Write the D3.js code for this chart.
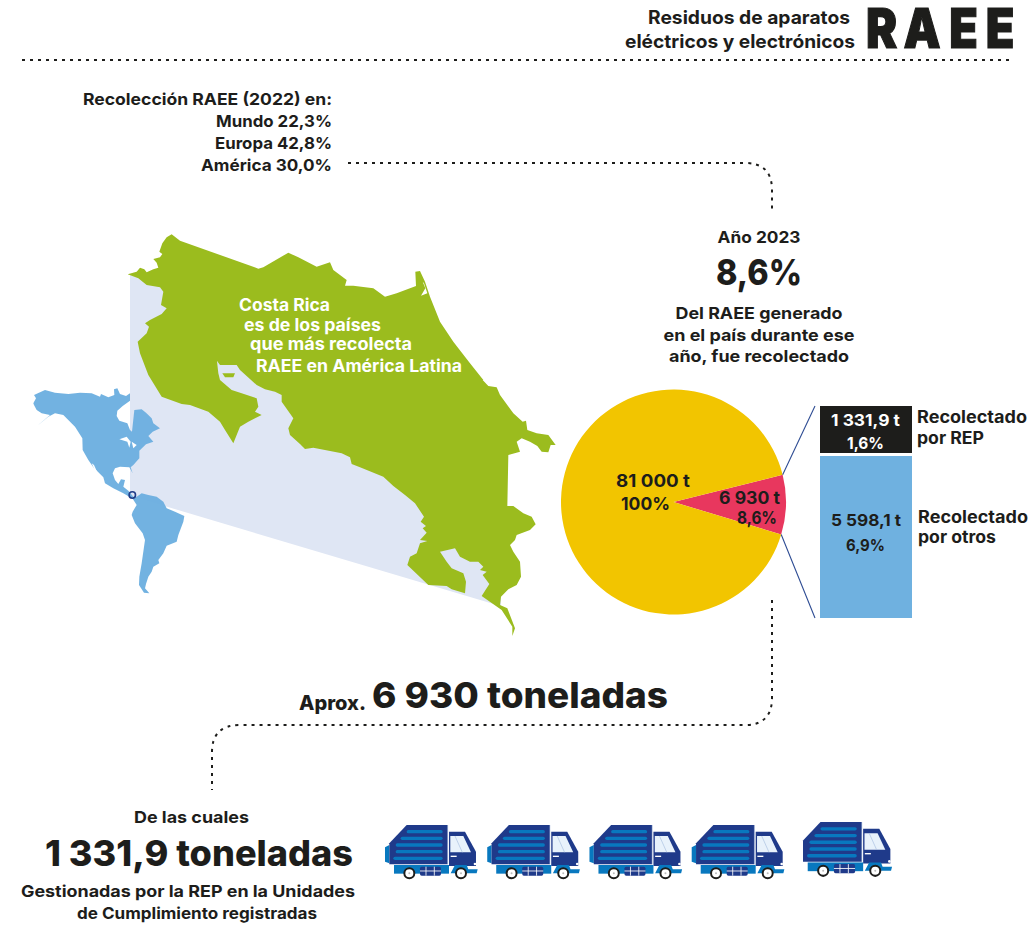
<!DOCTYPE html>
<html><head><meta charset="utf-8">
<style>html,body{margin:0;background:#fff}svg{display:block}text{font-family:Inter,"Open Sans",sans-serif;font-weight:700;fill:#1d1d1b}</style>
<script src="https://cdn.jsdelivr.net/npm/d3@7"></script></head><body>
<script>
// ---- data ----
const pieLabels = ["Recolectado","Generado restante"];
const pieValues = [6930, 74070];
const stackCategories = ["Recolectado por otros","Recolectado por REP"];
const stackValues = [5598.1, 1331.9];
const truckCount = 5;
// ---- illustration outlines (traced shapes in crop space, not data) ----
const crN=[[8,133],[35,125],[45,113],[58,118],[65,127],[85,118],[100,113],[95,98],[85,87],[105,82],[112,72],[103,65],[112,40],[125,22],[140,13],[165,32],[400,116],[415,112],[490,68],[520,82],[575,110]];
const crE=[[590,125],[630,112],[640,135],[680,165],[675,182],[700,182],[760,190],[795,215],[830,205],[888,183],[886,140],[900,138],[915,170],[930,215],[960,290],[1000,350],[1050,415],[1090,465]];
const crS=[[548,0],[565,18],[590,22],[600,45],[640,100],[668,125],[678,122],[682,150],[710,160],[745,165],[767,195],[752,195],[745,217],[725,215],[712,198],[690,185],[665,175],[650,185],[660,215],[625,225],[622,378],[640,378],[670,400],[695,410],[707,433],[690,450],[650,465],[645,480],[630,495],[640,515],[660,545],[663,590],[650,615],[625,628],[603,650],[600,675],[622,685],[645,745],[637,768],[637,740],[605,690],[545,648],[568,612],[548,585],[560,575],[540,570],[550,560],[535,545],[510,545],[480,530],[465,505],[420,515],[440,545],[455,565],[490,580],[498,605],[495,640],[455,628],[440,618],[385,615],[322,555],[330,530],[350,520],[360,490],[382,483],[360,480],[380,458],[368,445],[378,438],[362,425],[372,410],[345,370],[315,345],[280,318],[250,290],[180,262],[155,252],[150,232],[125,220],[40,203],[15,207],[0,192]];
const crW=[[525,642],[495,615],[490,595],[505,565],[470,515],[470,495],[450,485],[420,478],[395,465],[345,420],[335,405],[285,405],[258,368],[275,385],[280,430],[285,450],[320,480],[350,490],[395,505],[400,530],[390,545],[410,555],[370,575],[345,590],[325,640],[300,600],[285,575],[250,545],[195,525],[170,522],[110,500],[70,435],[45,370],[38,335],[65,310],[72,290],[60,280],[75,270],[110,252],[125,235],[108,225],[115,185],[105,172],[65,165],[40,145]];
const island=[[292,430],[330,430],[325,442],[300,442]];
const palePoly=[[130,275],[350,320],[501,500],[501,607],[497,605],[130,495.7]];
const americas=[[40,70],[48,55],[42,45],[75,30],[105,38],[145,42],[180,38],[215,40],[240,50],[243,42],[265,52],[283,45],[282,28],[292,25],[300,42],[318,48],[330,40],[330,62],[308,78],[292,92],[290,108],[298,122],[322,130],[330,150],[336,155],[343,90],[365,88],[378,98],[395,115],[400,130],[420,145],[398,155],[385,168],[400,185],[378,193],[358,212],[358,235],[340,255],[332,262],[338,280],[328,262],[300,260],[285,265],[278,280],[285,300],[295,312],[303,298],[315,300],[310,320],[325,332],[340,350],[350,350],[365,340],[385,345],[410,350],[430,365],[440,385],[465,395],[493,408],[490,425],[475,465],[470,485],[440,497],[430,520],[415,540],[418,550],[400,560],[395,575],[385,590],[378,612],[375,625],[388,640],[372,638],[357,615],[358,590],[365,550],[375,480],[368,460],[345,430],[335,405],[338,395],[350,375],[338,356],[310,340],[280,325],[255,310],[250,292],[220,262],[205,240],[188,210],[187,175],[165,140],[130,105],[105,100],[85,110],[52,137],[90,105],[65,100],[50,90],[42,75]];
const lakes=[[[298,178],[320,170],[332,185],[328,203],[322,185]],[[335,185],[350,195],[340,205]],[[215,250],[222,255],[238,290],[232,288]]];
const line=d3.line();
const svg=d3.select("body").append("svg").attr("width",1028).attr("height",926);
const T=(s,x,y,size,anchor="start",w=null,fill=null,weight=null)=>{const t=svg.append("text").attr("x",x).attr("y",y).attr("font-size",size).attr("text-anchor",anchor).text(s);if(w)t.attr("textLength",w).attr("lengthAdjust","spacingAndGlyphs");if(fill)t.style("fill",fill);if(weight)t.style("font-weight",weight);return t;};
// maps
const zA=(p)=>[p[0]/3+20,p[1]/3+380], z0=(p)=>[p[0]/3+120,p[1]/3+225], z1=(p)=>[p[0]/3+125,p[1]/3+230], z2=(p)=>[p[0]/3+300,p[1]/3+380];
svg.append("path").attr("d",line(palePoly)+"Z").attr("fill","#dfe6f4");
svg.append("path").attr("d",line(americas.map(zA))+"Z").attr("fill","#6cafe0").attr("fill-opacity",.96);
lakes.forEach(l=>svg.append("path").attr("d",line(l.map(zA))+"Z").attr("fill","#fff"));
svg.append("circle").attr("cx",132.3).attr("cy",495).attr("r",3.2).attr("fill","none").attr("stroke","#1f3c88").attr("stroke-width",1.6);
const crOutline=[...crN.map(z1),...crE.map(z0),...crS.map(z2),...crW.map(z1)];
svg.append("path").attr("d",line(crOutline)+"Z").attr("fill","#9bbc1e");
svg.append("path").attr("d",line(island.map(z1))+"Z").attr("fill","#9bbc1e");
svg.append("path").attr("d",line([[908,170],[916,190],[903,212],[922,205],[912,175]].map(z0))+"Z").attr("fill","#fff");
// header
T("Residuos de aparatos",850,24,18.5,"end",202);
T("eléctricos y electrónicos",855,48,18.5,"end",230);
svg.append("text").attr("transform","translate(866,48) scale(.85,1)").attr("x","0 44 98 141").attr("y",0).attr("font-size",55).text("RAEE").style("font-weight",900).style("stroke","#1d1d1b").style("stroke-width",1.2);
// dotted
const dotted=(d)=>svg.append("path").attr("d",d).attr("fill","none").attr("stroke","#1d1d1b").attr("stroke-width",2).attr("stroke-dasharray","3 5");
dotted("M22 60H1012");
dotted("M348 163H745Q772 163 772 190V213");
dotted("M772 600V698Q772 725 745 725H240Q212 725 212 752V790");
// top left
[["Recolección RAEE (2022) en:",249],["Mundo 22,3%",116],["Europa 42,8%",117],["América 30,0%",131]].forEach((d,i)=>T(d[0],332,105+i*22,16.5,"end",d[1]));
// center text
T("Año 2023",759,243,16.5,"middle",83);
T("8,6%",759,285,36,"middle",86,null,800);
[["Del RAEE generado",167],["en el país durante ese",191],["año, fue recolectado",180]].forEach((d,i)=>T(d[0],759,319+i*21.5,16.5,"middle",d[1]));
[["Costa Rica",239,311,91],["es de los países",244,331,137],["que más recolecta",250,350,162],["RAEE en América Latina",256,372,206]].forEach(d=>T(d[0],d[1],d[2],17,"start",d[3],"#fff"));
// pie
const cx=673.5,cy=502,R=112.5;
const center=91.4*Math.PI/180, half=Math.PI*pieValues[0]/(pieValues[0]+pieValues[1]);
const arcs=d3.pie().sort(null).startAngle(center-half).endAngle(center-half+2*Math.PI)(pieValues);
const arc=d3.arc().innerRadius(0).outerRadius(R);
const pieCol=d3.scaleOrdinal(pieLabels,["#e8375e","#f2c500"]);
svg.append("g").attr("transform",`translate(${cx},${cy})`).selectAll("path").data(arcs).join("path").attr("d",arc).attr("fill",(d,i)=>pieCol(pieLabels[i]));
T("81 000 t",653,487,17.5,"middle",74);T("100%",645.5,510,17.5,"middle",49);
T("6 930 t",749.5,504,17,"middle",61);T("8,6%",757,524,17,"middle",40);
// stack
const y=d3.scaleLinear().domain([0,stackValues[0],stackValues[0]+stackValues[1]]).range([618,456,409]);
const x=d3.scaleBand().domain(["stack"]).range([820,912]);
const gap=3;
const stack=[{c:stackCategories[0],a:0,b:stackValues[0],g:0,f:"#6fb1e0"},{c:stackCategories[1],a:stackValues[0],b:stackValues[0]+stackValues[1],g:gap,f:"#1d1d1b"}];
svg.selectAll("rect.stack").data(stack).join("rect").attr("class","stack").attr("x",x("stack")).attr("width",x.bandwidth()).attr("y",d=>y(d.b)-d.g).attr("height",d=>y(d.a)-y(d.b)).attr("fill",d=>d.f);
// connectors
const tipA=[cx+R*Math.sin(center-half),cy-R*Math.cos(center-half)],tipB=[cx+R*Math.sin(center+half),cy-R*Math.cos(center+half)];
svg.append("path").attr("d",`M${tipA}L815 406M${tipB}L815 618`).attr("stroke","#2f4d94").attr("stroke-width",1.1).attr("fill","none");
T("1 331,9 t",865.5,426,16.5,"middle",69,"#fff");T("1,6%",865.5,449,16.5,"middle",37,"#fff");
T("5 598,1 t",866,526,16.5,"middle",70);T("6,9%",865.5,551,16.5,"middle",39);
T("Recolectado",917,423,17,"start",110);T("por REP",917,444,17,"start",67);T("Recolectado",918,523,17,"start",110);T("por otros",918,543,17,"start",78);
// big text
T("Aprox.",299,710,20,"start",67,null,800);
T("6 930 toneladas",372,708,36,"start",296,null,800);
T("De las cuales",191.5,823,16.5,"middle",115);
T("1 331,9 toneladas",45,866,36,"start",308,null,800);
T("Gestionadas por la REP en la Unidades",188,897,16,"middle",334);
T("de Cumplimiento registradas",197,919,16,"middle",240);
// trucks
const truckX=d3.scalePoint().domain(d3.range(truckCount-1)).range([380,686.7]);
function truck(g,flap){
 const b="#1f3a8a",l="#0878bf";
 const P=(pts,f)=>g.append("path").attr("d",line(pts)+"Z").attr("fill",f);
 if(flap)P([[15,112],[28,105],[28,160],[15,155]],l);
 P([[80,45],[203,45],[203,163],[28,163],[28,100]],b);
 P([[207,65],[255,65],[288,125],[288,168],[207,168]],b);
 g.append("path").attr("d",line([[203,45],[203,163]])).attr("stroke","#9db3d8").attr("stroke-width",1.5);
 P([[211,78],[250,78],[273,127],[211,127]],"#e8f2fb");
 g.append("path").attr("d",line([[225,78],[247,127]])).attr("stroke","#a9bfe0").attr("stroke-width",2);
 [[80,60],[62,80],[47,100],[47,120],[40,140]].forEach(s=>g.append("rect").attr("x",s[0]).attr("y",s[1]).attr("width",188-s[0]).attr("height",10).attr("rx",5).attr("fill",l));
 g.append("rect").attr("x",42).attr("y",165).attr("width",165).attr("height",26).attr("fill",l);
 P([[212,190],[225,165],[260,165],[265,178],[293,178],[290,190]],l);
 g.append("rect").attr("x",120).attr("y",170).attr("width",63).attr("height",27).attr("rx",5).attr("fill",b);
 [[120,183,183,183],[138,170,138,197],[163,170,163,197]].forEach(c=>g.append("line").attr("x1",c[0]).attr("y1",c[1]).attr("x2",c[2]).attr("y2",c[3]).attr("stroke","#fff").attr("stroke-width",2.5));
 g.append("rect").attr("x",212).attr("y",137).attr("width",18).attr("height",4).attr("fill","#fff");
 g.append("circle").attr("cx",285).attr("cy",162).attr("r",4).attr("fill","#fff");
 [88,243].forEach(c=>{g.append("circle").attr("cx",c).attr("cy",190).attr("r",15).attr("fill","#fff").attr("stroke","#1d1d1b").attr("stroke-width",6);
  g.append("circle").attr("cx",c).attr("cy",190).attr("r",3).attr("fill","#bbb");});
}
d3.range(truckCount-1).forEach(i=>truck(svg.append("g").attr("transform",`translate(${truckX(i)},810) scale(.3333)`),true));
truck(svg.append("g").attr("transform",`translate(793.6,807) scale(.336)`),false);
</script></body></html>
